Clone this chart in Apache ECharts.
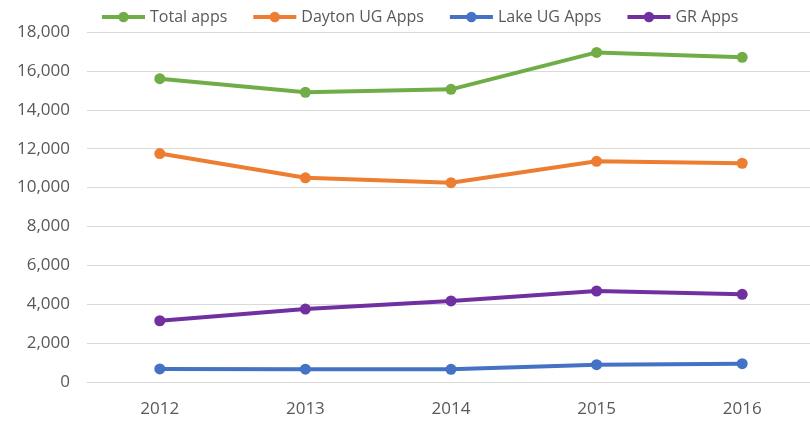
<!DOCTYPE html>
<html>
<head>
<meta charset="utf-8">
<script src="https://cdn.jsdelivr.net/npm/echarts@6/dist/echarts.min.js"></script>
<style>
  html, body { margin: 0; padding: 0; background: #fff; }
  #chart { width: 810px; height: 423px; }
</style>
</head>
<body>
<div id="chart"></div>
<script>
const years = ['2012', '2013', '2014', '2015', '2016'];
const totalApps = [15600, 14900, 15050, 16950, 16700];
const daytonApps = [11750, 10500, 10250, 11350, 11250];
const lakeApps = [670, 660, 650, 890, 940];
const grApps = [3150, 3750, 4170, 4680, 4510];

const FONT = 'Open Sans, Liberation Sans, sans-serif';

const mkSeries = (name, data, color) => ({
  name: name,
  type: 'line',
  data: data,
  symbol: 'circle',
  symbolSize: 11,
  itemStyle: { color: color },
  lineStyle: { width: 4, color: color },
  animation: false
});

const chart = echarts.init(document.getElementById('chart'));
chart.setOption({
  textStyle: { fontFamily: FONT },
  grid: {
    left: 87, right: -5, top: 32, bottom: 41,
    containLabel: false, outerBoundsMode: 'none'
  },
  legend: {
    top: 4,
    left: 95,
    itemWidth: 43,
    itemHeight: 13,
    itemGap: 24,
    lineStyle: { width: 4 },
    textStyle: { fontSize: 16, color: '#595959', fontFamily: FONT },
    data: ['Total apps', 'Dayton UG Apps', 'Lake UG Apps', 'GR Apps']
  },
  xAxis: {
    type: 'category',
    data: years,
    boundaryGap: true,
    axisLine: { lineStyle: { color: '#d9d9d9', width: 1 } },
    axisTick: { show: false },
    axisLabel: { fontSize: 17, color: '#595959', margin: 19 }
  },
  yAxis: {
    type: 'value',
    min: 0,
    max: 18000,
    interval: 2000,
    axisLine: { show: false },
    axisTick: { show: false },
    splitLine: { lineStyle: { color: '#d9d9d9', width: 1 } },
    axisLabel: {
      fontSize: 17,
      color: '#595959',
      margin: 17,
      formatter: v => v.toLocaleString('en-US')
    }
  },
  series: [
    mkSeries('Total apps', totalApps, '#70AD47'),
    mkSeries('Dayton UG Apps', daytonApps, '#ED7D31'),
    mkSeries('Lake UG Apps', lakeApps, '#4472C4'),
    mkSeries('GR Apps', grApps, '#7030A0')
  ]
});
</script>
</body>
</html>
